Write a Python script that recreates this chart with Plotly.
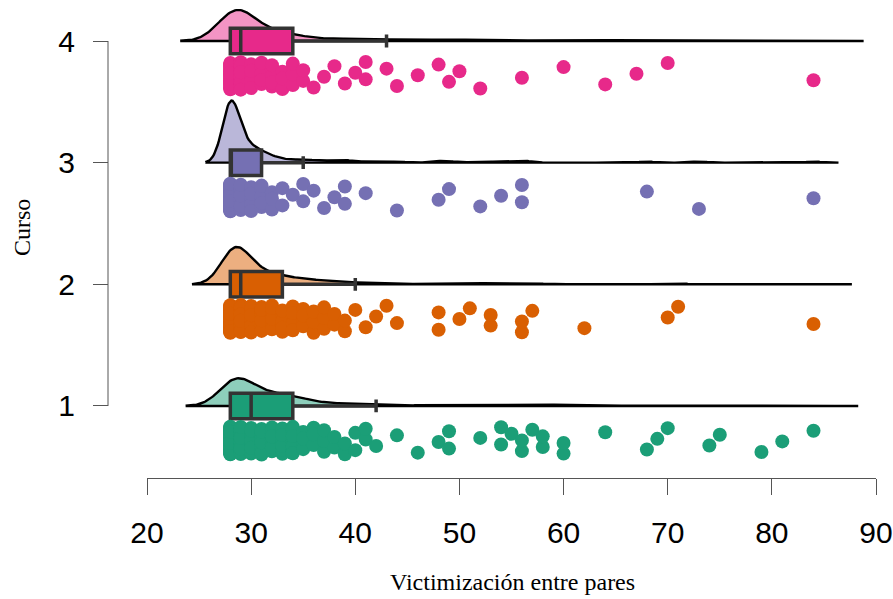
import numpy as np
import plotly.graph_objects as go

# Victimización entre pares por curso: distinct scores and how many students got each
curso1_values = [28, 29, 30, 31, 32, 33, 34, 35, 36, 37, 38, 39, 40, 41, 42, 44, 46, 48, 49,
                 52, 54, 55, 56, 57, 58, 60, 64, 68, 69, 70, 74, 75, 79, 81, 84]
curso1_counts = [46, 24, 19, 12, 10, 8, 14, 4, 3, 3, 2, 2, 2, 2, 1, 1, 1, 1, 2,
                 1, 2, 1, 2, 1, 2, 2, 1, 1, 1, 1, 1, 1, 1, 1, 1]

curso2_values = [28, 29, 30, 31, 32, 33, 34, 35, 36, 37, 38, 39, 40, 41, 42, 43, 44,
                 48, 50, 51, 53, 56, 57, 62, 70, 71, 84]
curso2_counts = [45, 35, 12, 10, 8, 6, 5, 4, 3, 3, 2, 2, 1, 1, 1, 1, 1,
                 2, 1, 1, 2, 2, 1, 1, 1, 1, 1]

curso3_values = [28, 29, 30, 31, 32, 33, 34, 35, 36, 37, 38, 39, 41, 44, 48, 49, 52, 54,
                 56, 68, 73, 84]
curso3_counts = [52, 12, 8, 6, 3, 2, 1, 2, 1, 1, 1, 2, 1, 1, 1, 1, 1, 1,
                 2, 1, 1, 1]

curso4_values = [28, 29, 30, 31, 32, 33, 34, 35, 36, 37, 38, 39, 40, 41, 43, 44, 46, 48,
                 49, 50, 52, 56, 60, 64, 67, 70, 84]
curso4_counts = [30, 22, 8, 6, 5, 3, 4, 2, 1, 1, 1, 1, 1, 2, 1, 1, 1, 1,
                 1, 1, 1, 1, 1, 1, 1, 1, 1]

cursos = [1, 2, 3, 4]
curso_labels = ["1", "2", "3", "4"]
x_ticks = [20, 30, 40, 50, 60, 70, 80, 90]

groups = [
    (curso1_values, curso1_counts),
    (curso2_values, curso2_counts),
    (curso3_values, curso3_counts),
    (curso4_values, curso4_counts),
]

# Dark2 colours, strong for boxes/points and a light tint for the clouds
strong = ["#1B9E77", "#D95F02", "#7570B3", "#E7298A"]
light = ["#8DCEBB", "#ECAF80", "#BAB7D9", "#F394C4"]

TALLEST_CLOUD = 0.51      # height (in category units) of the highest density peak
BOX_WIDTH = 0.21
RAIN_TOP, RAIN_SPAN = -0.17, 0.23
Y_RANGE = [0.408, 4.296]


def nrd0(x):
    sd = np.std(x, ddof=1)
    iqr = np.subtract(*np.percentile(x, [75, 25]))
    return 0.9 * min(sd, iqr / 1.34) * len(x) ** -0.2


def kde(x, bw, n=512, cut=3):
    grid = np.linspace(x.min() - cut * bw, x.max() + cut * bw, n)
    z = (grid[:, None] - x[None, :]) / bw
    dens = np.exp(-0.5 * z ** 2).sum(axis=1) / (len(x) * bw * np.sqrt(2 * np.pi))
    return grid, dens


samples = [np.repeat(np.array(v, float), c) for v, c in groups]
clouds = [kde(s, nrd0(s)) for s in samples]
scale = TALLEST_CLOUD / max(d.max() for _, d in clouds)

fig = go.Figure()

# clouds (half densities sitting on each category line)
for k, (grid, dens) in zip(cursos, clouds):
    i = k - 1
    xs = np.concatenate([grid, grid[::-1]])
    ys = np.concatenate([k + dens * scale, np.full(len(grid), k)])
    fig.add_trace(go.Scatter(
        x=xs, y=ys, mode="lines", fill="toself", fillcolor=light[i],
        line=dict(color="black", width=2.4), hoverinfo="skip",
    ))

# boxplots (on an overlaying axis so they sit above the clouds)
for k, s in zip(cursos, samples):
    i = k - 1
    q1, med, q3 = np.percentile(s, [25, 50, 75])
    iqr = q3 - q1
    upper = s[s <= q3 + 1.5 * iqr].max()
    lower = s[s >= q1 - 1.5 * iqr].min()
    fig.add_trace(go.Box(
        orientation="h", y=[k], q1=[q1], median=[med], q3=[q3],
        lowerfence=[lower], upperfence=[upper], width=BOX_WIDTH,
        fillcolor=strong[i], line=dict(color="#333333", width=3.5),
        whiskerwidth=0.5, boxpoints=False, xaxis="x", yaxis="y2",
    ))

# rain: jittered raw scores under each box
golden = (np.sqrt(5) - 1) / 2
for k, s in zip(cursos, samples):
    i = k - 1
    idx = np.arange(len(s))
    frac = (0.37 * k + idx * golden) % 1.0
    fig.add_trace(go.Scatter(
        x=s, y=k + RAIN_TOP - RAIN_SPAN * frac, mode="markers",
        marker=dict(color=strong[i], size=14, line=dict(width=0)),
        xaxis="x", yaxis="y2", hoverinfo="x",
    ))

W, H = 893, 599
ml, mr, mt, mb = 108, 17, 5, 121
pw = W - ml - mr
ph = H - mt - mb
tick_font = dict(family="Liberation Sans, Arial, sans-serif", size=30, color="black")
title_font = dict(family="Liberation Serif, Times New Roman, serif", size=24, color="black")

fig.update_layout(
    width=W, height=H,
    margin=dict(l=ml, r=mr, t=mt, b=mb, pad=0),
    plot_bgcolor="white", paper_bgcolor="white",
    showlegend=False,
    xaxis=dict(
        domain=[(147 - ml) / pw, 1], range=[20, 90], tickvals=x_ticks,
        ticks="outside", ticklen=16, tickcolor="#555555", tickwidth=1,
        showline=True, linecolor="#555555", linewidth=1,
        showgrid=False, zeroline=False, tickfont=tick_font,
        ticklabelstandoff=12, automargin=False,
    ),
    yaxis=dict(
        range=Y_RANGE, anchor="free", position=0,
        tickvals=cursos, ticktext=curso_labels,
        ticks="outside", ticklen=15, tickcolor="#555555", tickwidth=1,
        showline=False, showgrid=False, zeroline=False, tickfont=tick_font,
        ticklabelstandoff=12, automargin=False,
    ),
    yaxis2=dict(range=Y_RANGE, overlaying="y", visible=False),
    shapes=[dict(type="line", xref="paper", yref="y", x0=0, x1=0, y0=1, y1=4,
                 line=dict(color="#555555", width=1))],
    annotations=[
        dict(text="Curso", xref="paper", yref="paper",
             x=(22 - ml) / pw, y=(H - mb - 228) / ph, textangle=-90,
             showarrow=False, font=title_font, xanchor="center", yanchor="middle"),
        dict(text="Victimización entre pares", xref="paper", yref="paper",
             x=(512 - ml) / pw, y=(H - mb - 582) / ph,
             showarrow=False, font=title_font, xanchor="center", yanchor="middle"),
    ],
)

fig.write_html("out.html")
